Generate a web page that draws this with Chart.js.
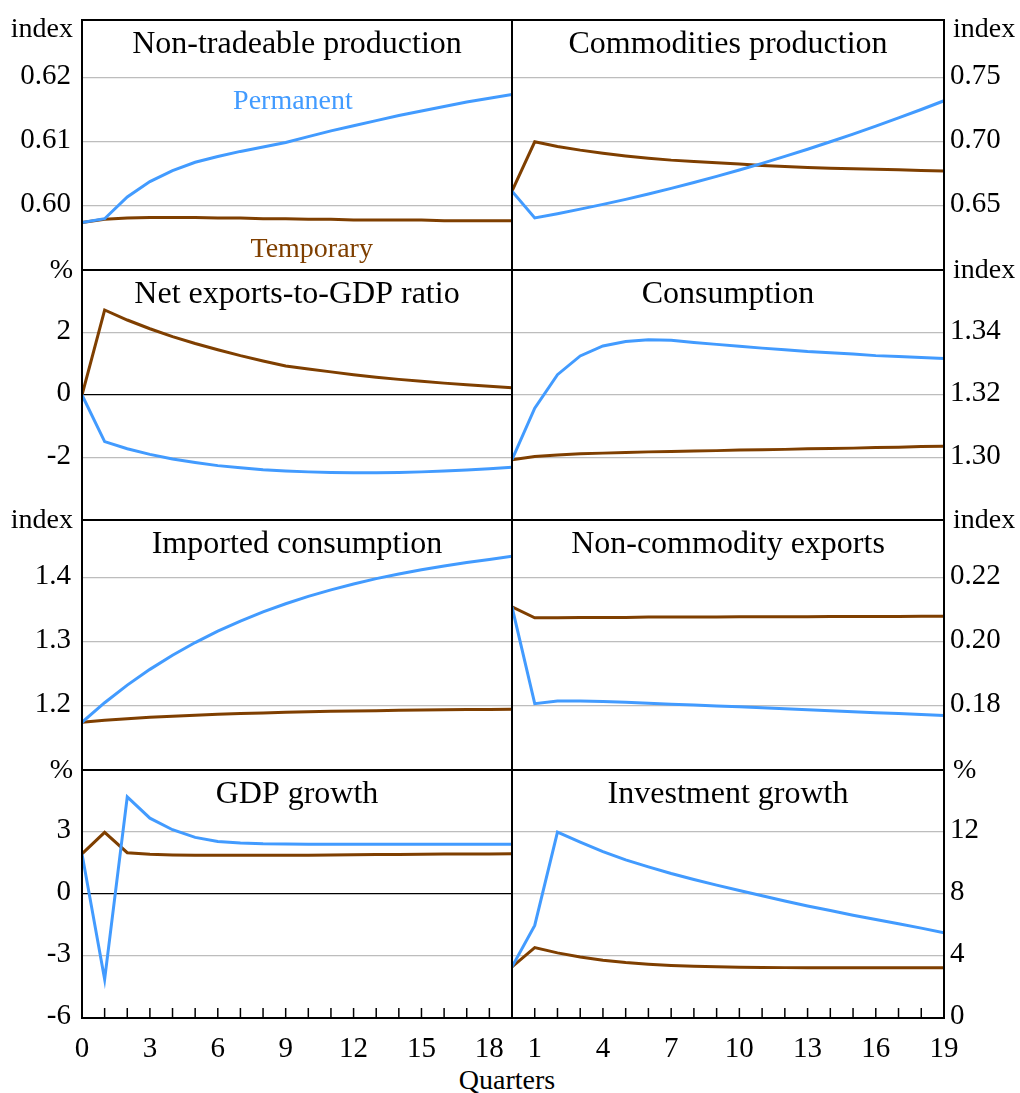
<!DOCTYPE html>
<html>
<head>
<meta charset="utf-8">
<script src="https://cdn.jsdelivr.net/npm/chart.js@4.4.1/dist/chart.umd.min.js"></script>
<style>
  html, body { margin: 0; padding: 0; background: #fff; }
  #wrap { position: relative; width: 1020px; height: 1093px; overflow: hidden; }
  #wrap canvas { position: absolute; }
  #quarters { position: absolute; left: 0; width: 1014px; top: 1065px; text-align: center;
    font: 28px "Liberation Serif", serif; line-height: 30px; color: #000; }
</style>
</head>
<body>
<div id="wrap"><div id="quarters">Quarters</div></div>
<script>
// quarters after the shock
const quarters = [0, 1, 2, 3, 4, 5, 6, 7, 8, 9, 10, 11, 12, 13, 14, 15, 16, 17, 18, 19];
const leftQuarterTicks = [0, 3, 6, 9, 12, 15, 18];
const rightQuarterTicks = [1, 4, 7, 10, 13, 16, 19];

// Non-tradeable production (index)
const nonTradePermanent = [0.5974, 0.5980, 0.6014, 0.6038, 0.6055, 0.6068, 0.6077, 0.6085, 0.6092, 0.6099,
  0.6108, 0.6117, 0.6125, 0.6133, 0.6141, 0.6148, 0.6155, 0.6162, 0.6168, 0.6174];
const nonTradeTemporary = [0.5974, 0.5979, 0.5981, 0.5982, 0.5982, 0.5982, 0.5981, 0.5981, 0.5980, 0.5980,
  0.5979, 0.5979, 0.5978, 0.5978, 0.5978, 0.5978, 0.5977, 0.5977, 0.5977, 0.5977];
const nonTradeTicks = [0.60, 0.61, 0.62];

// Commodities production (index)
const commodPermanent = [0.6615, 0.6406, 0.6439, 0.6475, 0.6512, 0.6551, 0.6593, 0.6637, 0.6682, 0.6730,
  0.6780, 0.6832, 0.6886, 0.6942, 0.7000, 0.7060, 0.7122, 0.7186, 0.7252, 0.7320];
const commodTemporary = [0.6615, 0.7000, 0.6964, 0.6935, 0.6911, 0.6890, 0.6872, 0.6857, 0.6846, 0.6836,
  0.6826, 0.6816, 0.6808, 0.6800, 0.6794, 0.6789, 0.6785, 0.6781, 0.6777, 0.6773];
const commodTicks = [0.65, 0.70, 0.75];

// Net exports-to-GDP ratio (%)
const netExpPermanent = [0, -1.49, -1.72, -1.90, -2.05, -2.16, -2.26, -2.33, -2.39, -2.43,
  -2.46, -2.48, -2.49, -2.49, -2.48, -2.46, -2.43, -2.40, -2.36, -2.31];
const netExpTemporary = [0, 2.72, 2.40, 2.12, 1.87, 1.65, 1.45, 1.26, 1.09, 0.93,
  0.83, 0.74, 0.65, 0.57, 0.50, 0.44, 0.38, 0.33, 0.28, 0.23];
const netExpTicks = [-2, 0, 2];

// Consumption (index)
const consPermanent = [1.2993, 1.3158, 1.3265, 1.3325, 1.3357, 1.3371, 1.3377, 1.3375, 1.3368, 1.3362,
  1.3356, 1.3350, 1.3345, 1.3339, 1.3335, 1.3331, 1.3326, 1.3323, 1.3320, 1.3317];
const consTemporary = [1.2993, 1.3003, 1.3008, 1.3012, 1.3014, 1.3016, 1.3018, 1.3019, 1.3021, 1.3022,
  1.3024, 1.3025, 1.3026, 1.3028, 1.3029, 1.3030, 1.3032, 1.3033, 1.3035, 1.3036];
const consTicks = [1.30, 1.32, 1.34];

// Imported consumption (index)
const impConsPermanent = [1.1745, 1.2050, 1.2324, 1.2570, 1.2790, 1.2988, 1.3165, 1.3323, 1.3466, 1.3593,
  1.3708, 1.3810, 1.3902, 1.3985, 1.4059, 1.4125, 1.4184, 1.4238, 1.4285, 1.4335];
const impConsTemporary = [1.1745, 1.1775, 1.1800, 1.1822, 1.1840, 1.1856, 1.1869, 1.1881, 1.1891, 1.1900,
  1.1908, 1.1915, 1.1921, 1.1926, 1.1931, 1.1935, 1.1939, 1.1942, 1.1945, 1.1948];
const impConsTicks = [1.2, 1.3, 1.4];

// Non-commodity exports (index)
const nonCommPermanent = [0.2109, 0.1807, 0.1815, 0.1815, 0.1814, 0.1811, 0.1808, 0.1805, 0.1803, 0.1800,
  0.1797, 0.1794, 0.1791, 0.1788, 0.1785, 0.1782, 0.1779, 0.1776, 0.1773, 0.1770];
const nonCommTemporary = [0.2109, 0.2075, 0.2075, 0.2076, 0.2076, 0.2076, 0.2077, 0.2077, 0.2077, 0.2077,
  0.2078, 0.2078, 0.2078, 0.2078, 0.2079, 0.2079, 0.2079, 0.2079, 0.2080, 0.2080];
const nonCommTicks = [0.18, 0.20, 0.22];

// GDP growth (%)
const gdpPermanent = [1.94, -4.13, 4.70, 3.67, 3.11, 2.74, 2.54, 2.47, 2.43, 2.42,
  2.41, 2.41, 2.41, 2.41, 2.41, 2.41, 2.41, 2.41, 2.41, 2.41];
const gdpTemporary = [1.94, 2.98, 2.00, 1.92, 1.89, 1.88, 1.87, 1.87, 1.87, 1.88,
  1.88, 1.89, 1.90, 1.91, 1.91, 1.92, 1.93, 1.93, 1.94, 1.95];
const gdpTicks = [-6, -3, 0, 3];

// Investment growth (%)
const invPermanent = [3.30, 5.97, 11.99, 11.35, 10.73, 10.20, 9.75, 9.32, 8.94, 8.57,
  8.23, 7.89, 7.55, 7.23, 6.93, 6.63, 6.36, 6.08, 5.80, 5.50];
const invTemporary = [3.30, 4.54, 4.20, 3.94, 3.73, 3.58, 3.47, 3.39, 3.34, 3.30,
  3.28, 3.26, 3.25, 3.24, 3.24, 3.24, 3.24, 3.24, 3.24, 3.24];
const invTicks = [0, 4, 8, 12];

const BLUE = '#429bff';
const BROWN = '#7f3f00';
const GRID = '#bdbdbd';

Chart.defaults.font.family = '"Liberation Serif", "Times New Roman", serif';
Chart.defaults.color = '#000';

const rowTops = [20, 270, 520, 770];
const rowHeights = [250, 250, 250, 248];

const panels = [
  { title: 'Non-tradeable production', unit: 'index', col: 0, row: 0, perm: nonTradePermanent, temp: nonTradeTemporary,
    ticks: nonTradeTicks, dp: 2, min: 0.59, max: 0.629,
    notes: [{ text: 'Permanent', x: 9.32, y: 0.6151, color: BLUE }, { text: 'Temporary', x: 10.15, y: 0.5921, color: BROWN }] },
  { title: 'Commodities production', unit: 'index', col: 1, row: 0, perm: commodPermanent, temp: commodTemporary,
    ticks: commodTicks, dp: 2, min: 0.60, max: 0.795 },
  { title: 'Net exports-to-GDP ratio', unit: '%', col: 0, row: 1, perm: netExpPermanent, temp: netExpTemporary,
    ticks: netExpTicks, dp: 0, min: -4, max: 4, zero: true },
  { title: 'Consumption', unit: 'index', col: 1, row: 1, perm: consPermanent, temp: consTemporary,
    ticks: consTicks, dp: 2, min: 1.28, max: 1.36 },
  { title: 'Imported consumption', unit: 'index', col: 0, row: 2, perm: impConsPermanent, temp: impConsTemporary,
    ticks: impConsTicks, dp: 1, min: 1.1, max: 1.49 },
  { title: 'Non-commodity exports', unit: 'index', col: 1, row: 2, perm: nonCommPermanent, temp: nonCommTemporary,
    ticks: nonCommTicks, dp: 2, min: 0.16, max: 0.238 },
  { title: 'GDP growth', unit: '%', col: 0, row: 3, perm: gdpPermanent, temp: gdpTemporary,
    ticks: gdpTicks, dp: 0, min: -6, max: 6, zero: true },
  { title: 'Investment growth', unit: '%', col: 1, row: 3, perm: invPermanent, temp: invTemporary,
    ticks: invTicks, dp: 0, min: 0, max: 16 }
];

// frame, titles, unit labels, inward tick marks and the line notes
const panelDecor = {
  id: 'panelDecor',
  afterDraw(chart, args, o) {
    const { ctx, chartArea: a, scales } = chart;
    ctx.save();
    ctx.strokeStyle = '#000';
    if (o.tickMarks) {
      ctx.lineWidth = 1.5;
      ctx.beginPath();
      quarters.forEach(q => {
        if (q === 0 || q === 19) return;
        const x = scales.x.getPixelForValue(q);
        ctx.moveTo(x, a.bottom);
        ctx.lineTo(x, a.bottom - 10);
      });
      ctx.stroke();
    }
    ctx.lineWidth = 2;
    ctx.strokeRect(a.left, a.top, a.right - a.left, a.bottom - a.top);

    ctx.fillStyle = '#000';
    ctx.textBaseline = 'alphabetic';
    ctx.textAlign = 'center';
    ctx.font = '32px "Liberation Serif"';
    ctx.fillText(o.title, (a.left + a.right) / 2, a.top + 33);

    ctx.font = '28px "Liberation Serif"';
    if (o.side === 'left') {
      ctx.textAlign = 'right';
      ctx.fillText(o.unit, a.left - 9, a.top + o.unitDy);
    } else {
      ctx.textAlign = 'left';
      ctx.fillText(o.unit, a.right + 9, a.top + o.unitDy);
    }

    ctx.textAlign = 'center';
    (o.notes || []).forEach(n => {
      ctx.fillStyle = n.color;
      ctx.fillText(n.text, scales.x.getPixelForValue(n.x), scales.y.getPixelForValue(n.y));
    });
    ctx.restore();
  }
};

const wrap = document.getElementById('wrap');

panels.forEach(p => {
  const side = p.col === 0 ? 'left' : 'right';
  const bottomRow = p.row === 3;
  const canvas = document.createElement('canvas');
  const w = p.col === 0 ? 520 : 516;
  const h = 20 + rowHeights[p.row] + (bottomRow ? 50 : 10);
  canvas.width = w;
  canvas.height = h;
  canvas.style.left = (p.col === 0 ? 0 : 504) + 'px';
  canvas.style.top = (rowTops[p.row] - 20) + 'px';
  wrap.appendChild(canvas);

  const xTicks = p.col === 0 ? leftQuarterTicks : rightQuarterTicks;

  new Chart(canvas, {
    type: 'line',
    data: {
      labels: quarters,
      datasets: [
        { label: 'Permanent', data: p.perm, borderColor: BLUE, borderWidth: 3, pointRadius: 0, tension: 0 },
        { label: 'Temporary', data: p.temp, borderColor: BROWN, borderWidth: 3, pointRadius: 0, tension: 0 }
      ]
    },
    options: {
      responsive: false,
      animation: false,
      events: [],
      layout: {
        padding: { top: 20, bottom: bottomRow ? 0 : 10, left: p.col === 0 ? 0 : 8, right: p.col === 0 ? 8 : 0 }
      },
      scales: {
        x: {
          type: 'linear',
          min: 0,
          max: 19,
          display: bottomRow,
          afterBuildTicks: s => { s.ticks = xTicks.map(v => ({ value: v })); },
          afterFit: s => { s.height = bottomRow ? 50 : 0; s.paddingLeft = 0; s.paddingRight = 0; },
          grid: { display: false, drawTicks: false },
          border: { display: false },
          ticks: { padding: 14, maxRotation: 0, autoSkip: false, font: { size: 29 }, color: '#000',
            callback: v => String(v) }
        },
        y: {
          position: side,
          min: p.min,
          max: p.max,
          afterBuildTicks: s => { s.ticks = p.ticks.map(v => ({ value: v })); },
          afterFit: s => { s.width = side === 'left' ? 82 : 76; s.paddingTop = 0; s.paddingBottom = 0; },
          grid: {
            drawTicks: false,
            lineWidth: 1.3,
            color: c => (p.zero && c.tick && c.tick.value === 0) ? '#000' : GRID
          },
          border: { display: false },
          ticks: { padding: side === 'left' ? 11 : 6, labelOffset: -1.5, font: { size: 29 }, color: '#000',
            callback: v => Number(v).toFixed(p.dp) }
        }
      },
      plugins: {
        legend: { display: false },
        tooltip: { enabled: false },
        panelDecor: {
          title: p.title,
          unit: p.unit,
          side: side,
          unitDy: p.row === 0 ? 17 : 8,
          tickMarks: bottomRow,
          notes: p.notes || []
        }
      }
    },
    plugins: [panelDecor]
  });
});
</script>
</body>
</html>
